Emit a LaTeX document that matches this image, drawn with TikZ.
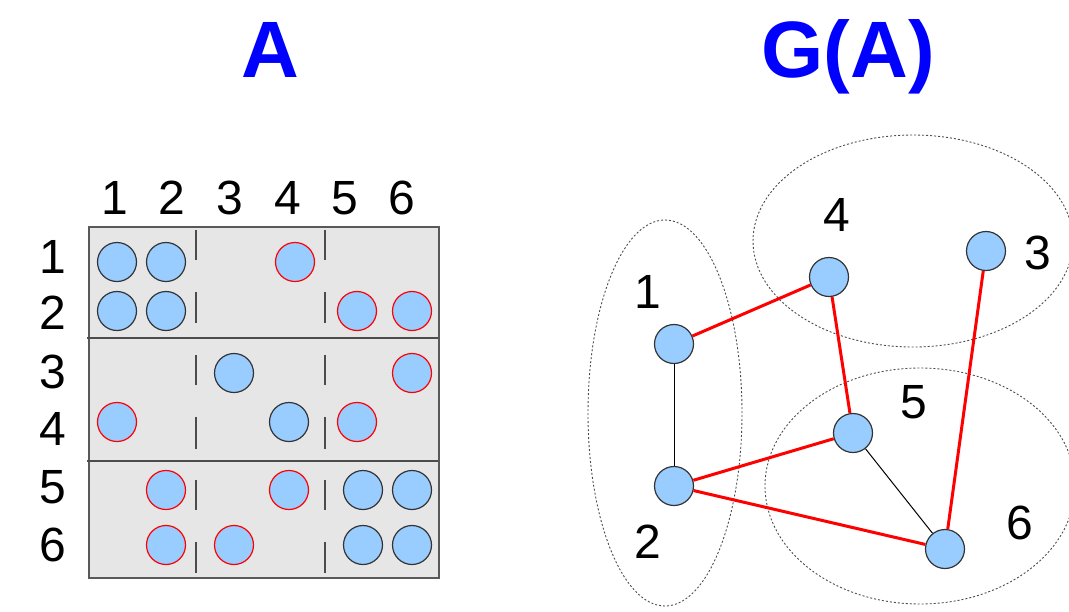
\documentclass[tikz,border=0pt]{standalone}
\usepackage{fontspec}
\setmainfont{Liberation Sans}
\usepackage{tikz}
\usetikzlibrary{positioning}
\definecolor{dotblue}{HTML}{99CCFF}
\definecolor{titleblue}{HTML}{0000FF}
\definecolor{boxgray}{HTML}{E6E6E6}

\begin{document}
\begin{tikzpicture}[
    x=1pt, y=-1pt,
    every node/.style={font=\fontsize{48}{50}\selectfont, inner sep=0pt},
    title/.style={font=\fontsize{80}{84}\selectfont\bfseries, text=titleblue},
    dot/.style={circle, draw=black!80, fill=dotblue, line width=1.2pt, minimum size=39pt},
    sdot/.style={dot, draw=red},
    sep/.style={draw=black!70, line width=1.5pt},
    redge/.style={red, line width=3pt},
    bedge/.style={black, line width=1pt},
    grp/.style={draw=black!70, line width=0.9pt, dash pattern=on 2pt off 2pt}
]
\useasboundingbox (0,0) rectangle (1069,611);

% titles
\node[title, anchor=base] (tA) at (270,77) {A};
\node[title, anchor=base] (tG) at (848,77) {G(A)};

% matrix A
\draw[fill=boxgray, draw=black!65, line width=1.5pt] (89,227) rectangle (439,578);
\draw[sep] (87,338) -- (438,338);
\draw[sep] (87,461) -- (438,461);
\draw[sep] (196,230) -- (196,260);
\draw[sep] (325,230) -- (325,260);
\draw[sep] (196,292) -- (196,323);
\draw[sep] (325,292) -- (325,323);
\draw[sep] (196,355) -- (196,385);
\draw[sep] (325,355) -- (325,385);
\draw[sep] (196,417) -- (196,449);
\draw[sep] (325,417) -- (325,449);
\draw[sep] (196,480) -- (196,510);
\draw[sep] (325,480) -- (325,510);
\draw[sep] (196,542) -- (196,573);
\draw[sep] (325,542) -- (325,573);

\node (c1) at (115,198) {1};
\node (c2) at (172,198) {2};
\node (c3) at (230,198) {3};
\node (c4) at (288,198) {4};
\node (c5) at (345,198) {5};
\node (c6) at (402,198) {6};

\node (r1) at (53,257) {1};
\node (r2) at (53,313) {2};
\node (r3) at (53,372) {3};
\node (r4) at (53,429) {4};
\node (r5) at (53,487) {5};
\node (r6) at (53,545) {6};

\node[dot]  (m11) at (117,262) {};
\node[dot]  (m12) at (166,262) {};
\node[sdot] (m14) at (295,262) {};

\node[dot]  (m21) at (117,311) {};
\node[dot]  (m22) at (166,311) {};
\node[sdot] (m25) at (357,311) {};
\node[sdot] (m26) at (412,311) {};

\node[dot]  (m33) at (234,373) {};
\node[sdot] (m36) at (412,373) {};

\node[sdot] (m41) at (117,422) {};
\node[dot]  (m44) at (289,422) {};
\node[sdot] (m45) at (357,422) {};

\node[sdot] (m52) at (166,490) {};
\node[sdot] (m54) at (289,490) {};
\node[dot]  (m55) at (363,490) {};
\node[dot]  (m56) at (412,490) {};

\node[sdot] (m62) at (166,545) {};
\node[sdot] (m63) at (234,545) {};
\node[dot]  (m65) at (363,545) {};
\node[dot]  (m66) at (412,545) {};

% graph G(A)
\draw[grp] (665,413) ellipse [x radius=77pt, y radius=193pt];
\draw[grp] (913,241) ellipse [x radius=160pt, y radius=106pt];
\draw[grp] (920,486) ellipse [x radius=155pt, y radius=118pt];

\node[dot] (n1) at (674,344) {};
\node[dot] (n2) at (674,486) {};
\node[dot] (n3) at (986,251) {};
\node[dot] (n4) at (829,277) {};
\node[dot] (n5) at (853,433) {};
\node[dot] (n6) at (945,549) {};

\node (l1) at (648,292) {1};
\node (l2) at (648,542) {2};
\node (l3) at (1038,253) {3};
\node (l4) at (837,215) {4};
\node (l5) at (914,402) {5};
\node (l6) at (1020,523) {6};

\draw[bedge] (n1) -- (n2);
\draw[bedge] (n5) -- (n6);
\draw[redge] (n1) -- (n4);
\draw[redge] (n4) -- (n5);
\draw[redge] (n3) -- (n6);
\draw[redge] (n2) -- (n5);
\draw[redge] (n2) -- (n6);

\end{tikzpicture}
\end{document}
